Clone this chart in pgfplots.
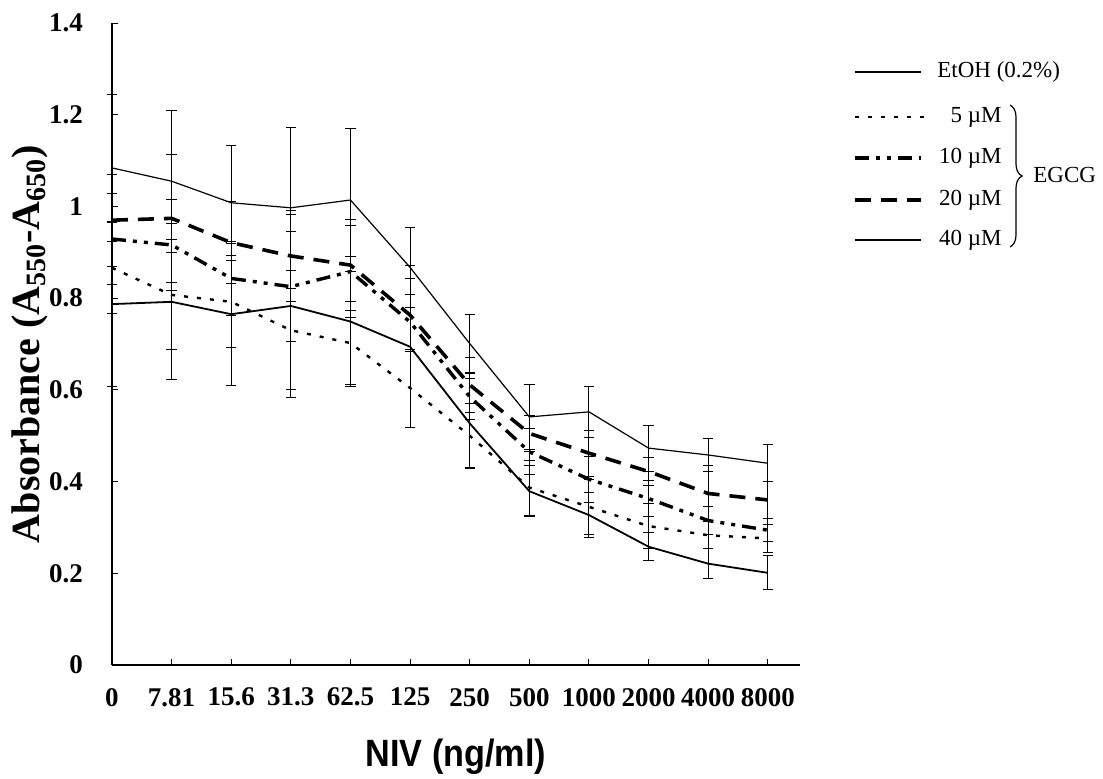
\documentclass[border=0pt]{standalone}
\usepackage{fontspec}
\setmainfont{Liberation Serif}
\newfontfamily\lsans[FakeStretch=0.9]{Liberation Sans}
\usepackage{pgfplots}
\usepackage{pgfplotstable}
\pgfplotsset{compat=1.18}
\usetikzlibrary{decorations.pathreplacing}

\pgfplotstableread{
x y e
0 1.084 0.160
1 1.055 0.155
2 1.008 0.125
3 0.997 0.175
4 1.014 0.155
5 0.867 0.087
6 0.701 0.064
7 0.541 0.070
8 0.552 0.055
9 0.473 0.050
10 0.458 0.035
11 0.440 0.040
}\etoh
\pgfplotstableread{
x y e
0 0.866 0.100
1 0.807 0.120
2 0.792 0.100
3 0.730 0.130
4 0.702 0.090
5 0.604 0.085
6 0.500 0.070
7 0.387 0.060
8 0.345 0.060
9 0.303 0.050
10 0.283 0.030
11 0.276 0.030
}\fivemu
\pgfplotstableread{
x y e
0 0.929 0.100
1 0.916 0.100
2 0.843 0.080
3 0.825 0.120
4 0.858 0.100
5 0.748 0.060
6 0.585 0.050
7 0.465 0.050
8 0.405 0.050
9 0.363 0.040
10 0.315 0.030
11 0.294 0.025
}\tenmu
\pgfplotstableread{
x y e
0 0.970 0.100
1 0.974 0.140
2 0.921 0.090
3 0.892 0.100
4 0.872 0.100
5 0.763 0.080
6 0.611 0.060
7 0.505 0.040
8 0.462 0.050
9 0.422 0.030
10 0.374 0.060
11 0.360 0.040
}\twentymu
\pgfplotstableread{
x y e
0 0.787 0.180
1 0.792 0.170
2 0.765 0.155
3 0.783 0.200
4 0.749 0.142
5 0.694 0.177
6 0.527 0.098
7 0.379 0.056
8 0.327 0.050
9 0.258 0.030
10 0.221 0.032
11 0.201 0.037
}\fortymu

\tikzset{
  sEtOH/.style={line width=0.6pt, solid},
  sFive/.style={line width=1.2pt, dash pattern=on 2pt off 4.5pt},
  sTen/.style={line width=1.7pt, dash pattern=on 7pt off 3.5pt on 2pt off 3.5pt on 2pt off 3.5pt},
  sTwenty/.style={line width=1.8pt, dash pattern=on 8pt off 5pt},
  sForty/.style={line width=0.9pt, solid},
}

\begin{document}
\begin{tikzpicture}
\path[use as bounding box] (-56pt,-56.5pt) rectangle (495.5pt,332.5pt);
\begin{axis}[
  scale only axis,
  width=344pt, height=321pt,
  xmin=0, xmax=11.54, ymin=0, ymax=1.4,
  axis x line*=bottom, axis y line*=left,
  axis line style={line width=0.6pt, -},
  xtick={0,...,11},
  xticklabels={0,7.81,15.6,31.3,62.5,125,250,500,1000,2000,4000,8000},
  ytick={0,0.2,...,1.4},
  major tick length=3pt,
  tick style={line width=0.5pt, black},
  /pgf/number format/assume math mode=true,
  ticklabel style={font=\bfseries\fontsize{13.5}{15}\selectfont},
  xticklabel style={yshift=-8pt},
  yticklabel style={xshift=-11pt},
  xlabel={NIV (ng/ml)},
  ylabel={Absorbance (A\textsubscript{550}-A\textsubscript{650})},
  xlabel style={at={(axis description cs:0.5,-0.1433)}, anchor=center, font=\lsans\bfseries\fontsize{19}{21}\selectfont},
  ylabel style={at={(axis description cs:-0.119,0.5)}, anchor=center, rotate=0, font=\bfseries\fontsize{20}{23}\selectfont},
  clip=false,
  error bars/y dir=both, error bars/y explicit,
  error bars/error bar style={line width=0.5pt, solid},
  error bars/error mark options={rotate=90, mark size=2.6pt, line width=0.5pt, solid},
]
\addplot[black, sEtOH] table[x=x, y=y, y error=e] {\etoh};
\addplot[black, sFive] table[x=x, y=y, y error=e] {\fivemu};
\addplot[black, sTen] table[x=x, y=y, y error=e] {\tenmu};
\addplot[black, sTwenty] table[x=x, y=y, y error=e] {\twentymu};
\addplot[black, sForty] table[x=x, y=y, y error=e] {\fortymu};
\end{axis}
% legend
\begin{scope}[font=\fontsize{11.5}{13}\selectfont]
\draw[sEtOH] (371.5pt,296.5pt) -- (404.5pt,296.5pt);
\node[anchor=west, inner sep=0pt] at (412.5pt,296.5pt) {EtOH (0.2\%)};
\draw[sFive] (371.5pt,274pt) -- (408pt,274pt);
\node[anchor=east, inner sep=0pt] at (445pt,274pt) {5 µM};
\draw[sTen] (371.5pt,253.5pt) -- (404.5pt,253.5pt);
\node[anchor=east, inner sep=0pt] at (445pt,253.5pt) {10 µM};
\draw[sTwenty] (371.5pt,232.5pt) -- (404.5pt,232.5pt);
\node[anchor=east, inner sep=0pt] at (445pt,232.5pt) {20 µM};
\draw[sForty] (371.5pt,212.5pt) -- (404.5pt,212.5pt);
\node[anchor=east, inner sep=0pt] at (445pt,212.5pt) {40 µM};
\draw[line width=0.6pt, decorate, decoration={brace, amplitude=6pt}] (449pt,280pt) -- (449pt,209pt);
\node[anchor=west, inner sep=0pt] at (460.5pt,245pt) {EGCG};
\end{scope}
\end{tikzpicture}
\end{document}
